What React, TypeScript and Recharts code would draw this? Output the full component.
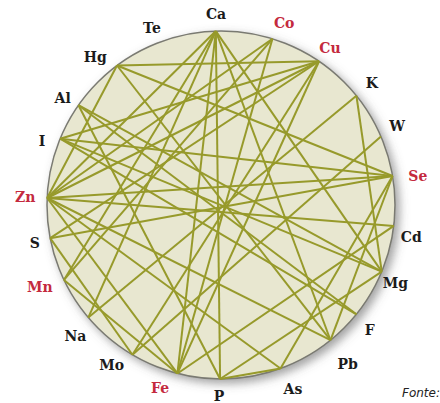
import {
  ReferenceDot,
  Scatter,
  ScatterChart,
  XAxis,
  YAxis,
} from "recharts";

// elements around the wheel, clockwise from the top
const ELEMENTS = [
  "Ca", "Co", "Cu", "K", "W", "Se", "Cd", "Mg", "F", "Pb", "As",
  "P", "Fe", "Mo", "Na", "Mn", "S", "Zn", "I", "Al", "Hg", "Te",
];
// angle of each element on the wheel (degrees, clockwise from top)
const ANGLES = [
  -1.7, 17.2, 34.3, 51.1, 66.8, 80.4, 96.9, 112.5, 128.9, 141, 160,
  180.3, 194.5, 210.6, 229.7, 244.5, 259, 272.3, 292.4, 305, 323.3, 339.7,
];
const RED = ["Co", "Cu", "Se", "Zn", "Mn", "Fe"];

// interactions (chords)
const LINKS: [string, string][] = [
  ["Ca", "P"], ["Ca", "Zn"], ["Ca", "Mn"], ["Ca", "Na"], ["Ca", "Fe"],
  ["Ca", "Pb"], ["Ca", "Mg"],
  ["Zn", "Cd"], ["Cu", "Mo"], ["Al", "F"], ["K", "Na"], ["Co", "Fe"],
  ["Hg", "Pb"],
  ["Cu", "Hg"], ["Cu", "Zn"], ["Cu", "Fe"], ["Cu", "S"], ["Cu", "I"],
  ["Se", "Hg"], ["Se", "I"], ["Se", "As"], ["Se", "Pb"], ["Se", "Zn"],
  ["Se", "S"],
  ["K", "Mg"], ["W", "Mo"], ["Co", "Zn"], ["Cd", "Fe"],
  ["Mg", "P"], ["Mg", "I"], ["Mg", "Al"], ["F", "I"],
  ["As", "P"], ["As", "Zn"], ["Zn", "Pb"], ["Zn", "Fe"], ["Fe", "Mn"],
  ["Mo", "S"], ["Zn", "Hg"], ["P", "Al"], ["Mn", "Co"],
];

const W = 440;
const H = 403;
const CX = 221;
const CY = 205;
const R = 174;

// where each label sits (angle in degrees, distance in px from the centre)
const LABEL_AT: Record<string, [number, number]> = {
  Ca: [-1.5, 191], Co: [19.1, 193], Cu: [34.8, 191], K: [51, 194],
  W: [65.8, 193], Se: [81.6, 199], Cd: [99.6, 193], Mg: [114, 191],
  F: [130, 194], Pb: [141.4, 203], As: [158.7, 198], P: [180.6, 191],
  Fe: [198.4, 193], Mo: [214.3, 194], Na: [228, 196], Mn: [245.6, 199],
  S: [258.5, 190], Zn: [272.3, 196], I: [289.7, 190], Al: [304, 191],
  Hg: [319.6, 194], Te: [338.7, 190],
};

const polar = (deg: number, rad: number) => {
  const a = (deg * Math.PI) / 180;
  return { x: rad * Math.sin(a), y: rad * Math.cos(a) };
};

const pos = (name: string) => ({
  ...polar(ANGLES[ELEMENTS.indexOf(name)], 1),
  name,
});

const labels = ELEMENTS.map((e) => ({
  ...polar(LABEL_AT[e][0], LABEL_AT[e][1] / R),
  name: e,
}));

const Label = (props: any) => {
  const { cx, cy, payload } = props;
  return (
    <text
      x={cx}
      y={cy}
      textAnchor="middle"
      dominantBaseline="central"
      fontFamily="DejaVu Serif"
      fontWeight="bold"
      fontSize={14}
      fill={RED.includes(payload.name) ? "#c42a3e" : "#1b1b1b"}
    >
      {payload.name}
    </text>
  );
};

export default function App() {
  return (
    <div
      style={{
        position: "absolute",
        left: 0,
        top: 0,
        width: W,
        height: H,
        overflow: "hidden",
        background: "#fff",
      }}
    >
      <ScatterChart
        width={W}
        height={H}
        margin={{ top: 0, right: 0, bottom: 0, left: 0 }}
      >
        <defs>
          <filter id="wheelShadow" x="-20%" y="-20%" width="140%" height="140%">
            <feDropShadow dx="4" dy="4" stdDeviation="5" floodColor="#555" floodOpacity="0.55" />
          </filter>
        </defs>
        <XAxis
          type="number"
          dataKey="x"
          domain={[-CX / R, (W - CX) / R]}
          allowDataOverflow
          hide
        />
        <YAxis
          type="number"
          dataKey="y"
          domain={[-(H - CY) / R, CY / R]}
          allowDataOverflow
          hide
        />
        <ReferenceDot
          x={0}
          y={0}
          r={R}
          shape={(p: any) => (
            <circle
              cx={p.cx}
              cy={p.cy}
              r={R}
              fill="#e8e7d0"
              stroke="#7a7a72"
              strokeWidth={1.5}
              filter="url(#wheelShadow)"
            />
          )}
        />
        {LINKS.map(([a, b]) => (
          <Scatter
            key={a + b}
            data={[pos(a), pos(b)]}
            line={{ stroke: "#979a2b", strokeWidth: 2 }}
            shape={() => null}
            isAnimationActive={false}
          />
        ))}
        <Scatter data={labels} shape={Label} isAnimationActive={false} />
      </ScatterChart>
      <div
        style={{
          position: "absolute",
          left: 402,
          top: 386,
          fontFamily: "DejaVu Sans",
          fontStyle: "italic",
          fontSize: 12,
          whiteSpace: "nowrap",
          color: "#222",
        }}
      >
        Fonte: adaptado
      </div>
    </div>
  );
}
